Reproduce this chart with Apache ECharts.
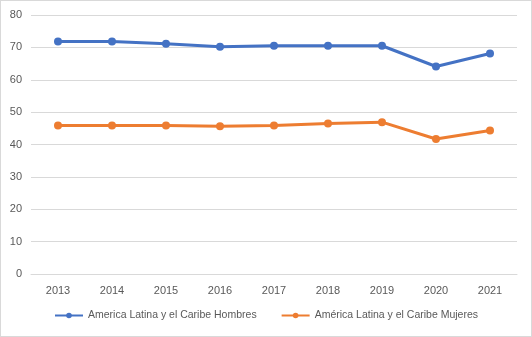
<!DOCTYPE html>
<html>
<head>
<meta charset="utf-8">
<script src="https://cdn.jsdelivr.net/npm/echarts@6/dist/echarts.min.js"></script>
<style>
  html, body { margin: 0; padding: 0; background: #fff; }
  #chart { width: 530px; height: 335px; border: 1px solid #d9d9d9; }
</style>
</head>
<body>
<div id="chart"></div>
<script>
// Years on the horizontal axis
const years = ['2013', '2014', '2015', '2016', '2017', '2018', '2019', '2020', '2021'];
// Series values
const hombres = [71.8, 71.8, 71.1, 70.2, 70.5, 70.5, 70.5, 64.1, 68.1];
const mujeres = [45.9, 45.9, 45.9, 45.6, 45.9, 46.5, 46.9, 41.7, 44.3];
const seriesNames = ['America Latina y el Caribe Hombres', 'América Latina y el Caribe Mujeres'];

const chart = echarts.init(document.getElementById('chart'));
const font = 'Liberation Sans, Arial, sans-serif';
const txt = '#595959';

function lineSeries(name, data, color) {
  return {
    name: name,
    type: 'line',
    data: data,
    symbol: 'circle',
    symbolSize: 8,
    lineStyle: { width: 3, color: color },
    itemStyle: { color: color },
    emphasis: { disabled: true }
  };
}

chart.setOption({
  animation: false,
  textStyle: { fontFamily: font },
  grid: { left: 30, right: 14, top: 14, bottom: 62, containLabel: false },
  xAxis: {
    type: 'category',
    data: years,
    boundaryGap: true,
    axisLine: { lineStyle: { color: '#d9d9d9' } },
    axisTick: { show: false },
    axisLabel: { color: txt, fontSize: 11, margin: 11, fontFamily: font }
  },
  yAxis: {
    type: 'value',
    min: 0,
    max: 80,
    interval: 10,
    axisLine: { show: false },
    axisTick: { show: false },
    splitLine: { lineStyle: { color: '#d9d9d9' } },
    axisLabel: { color: txt, fontSize: 11, margin: 9, fontFamily: font }
  },
  legend: {
    bottom: 10,
    left: 'center',
    itemWidth: 28,
    itemHeight: 7,
    itemGap: 24,
    textStyle: { color: txt, fontSize: 10.5, fontFamily: font },
    data: seriesNames
  },
  series: [
    lineSeries(seriesNames[0], hombres, '#4472c4'),
    lineSeries(seriesNames[1], mujeres, '#ed7d31')
  ]
});
</script>
</body>
</html>
